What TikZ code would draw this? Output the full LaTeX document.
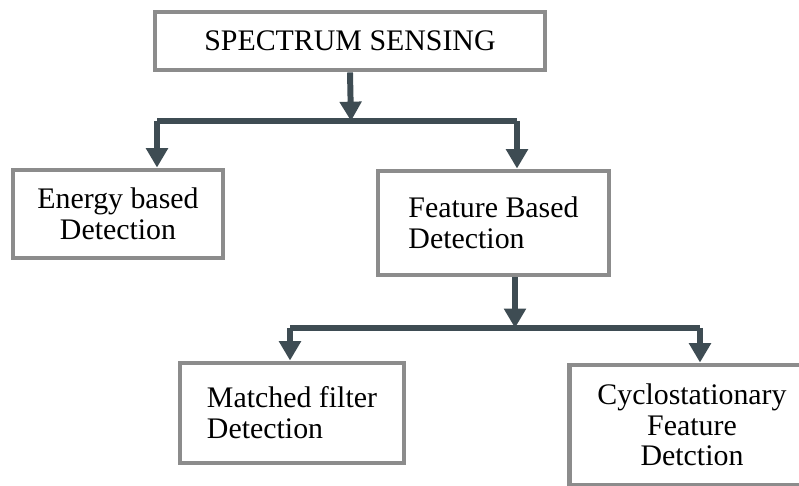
\documentclass[tikz,border=0pt]{standalone}
\usepackage{fontspec}
\setmainfont{Liberation Serif}
\usepackage{tikz}
\usetikzlibrary{arrows.meta,positioning,calc}
\definecolor{BoxGray}{HTML}{8C8C8C}
\definecolor{ArrGray}{HTML}{3E4C53}

\begin{document}
\begin{tikzpicture}[
  x=0.02cm,y=-0.02cm,
  blk/.style={draw=BoxGray,line width=2.8pt,fill=white,inner sep=0pt,font=\fontsize{17}{17.5}\selectfont},
  arr/.style={draw=ArrGray,line width=3.4pt,-{Triangle[width=12pt,length=11pt]}},
  bar/.style={draw=ArrGray,line width=3.4pt},
]
\useasboundingbox (0,0) rectangle (799,486);
\clip (0,0) rectangle (799,486);
\node[blk,minimum width=7.8cm,minimum height=1.16cm] (sense) at (350,41) {SPECTRUM SENSING};
\node[blk,minimum width=4.2cm,minimum height=1.76cm,align=center] (energy) at (118,214) {Energy based\\Detection};
\node[blk,minimum width=4.62cm,minimum height=2.08cm,align=left] (feature) at (493.5,223) {Feature Based\\Detection};
\node[blk,minimum width=4.48cm,minimum height=2.0cm,align=left] (matched) at (292,413) {Matched filter\\Detection};
\node[blk,minimum width=4.9cm,minimum height=2.4cm,align=center] (cyclo) at (692,425) {Cyclostationary\\Feature\\Detction};
% first level
\coordinate (b1) at (351,121);
\coordinate (b1l) at (157,121);
\coordinate (b1r) at (517,121);
\draw[arr] (sense.south) -- (b1);
\draw[bar] (b1l) -- (b1r);
\draw[arr] (b1l) -- (b1l |- energy.north);
\draw[arr] (b1r) -- (b1r |- feature.north);
% second level
\coordinate (b2) at (515,328);
\coordinate (b2l) at (290,328);
\coordinate (b2r) at (700,328);
\draw[arr] (b2 |- feature.south) -- (b2);
\draw[bar] (b2l) -- (b2r);
\draw[arr] (b2l) -- (b2l |- matched.north);
\draw[arr] (b2r) -- (b2r |- cyclo.north);
\end{tikzpicture}
\end{document}
